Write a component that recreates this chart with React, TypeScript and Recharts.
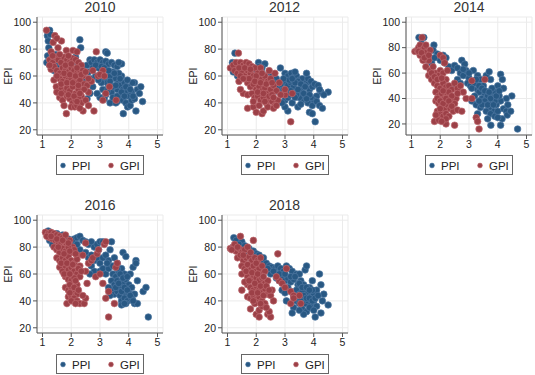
import React from 'react';
import { ScatterChart, Scatter, XAxis, YAxis, CartesianGrid } from 'recharts';

type Pt = [number, number];

const YEARS = ['2010', '2012', '2014', '2016', '2018'];
const SERIES_NAMES = ['PPI', 'GPI'];
const X_TICKS = [1, 2, 3, 4, 5];
const Y_TICKS = [20, 40, 60, 80, 100];
const Y_LABEL = 'EPI';

const PPI_2010: Pt[] = [[1.25,94],[1.17,90],[1.27,91],[1.2,86],[1.22,81],[1.18,75],[1.3,73],[1.15,70],[1.4,72],[1.5,68],[1.35,66],[1.6,70],[1.45,76],[1.7,64],[2.15,74],[2.3,87],[2.33,81],[2.2,70],[2.4,66],[2.1,62],[2.5,58],[2.55,68],[2.65,72],[2.7,70],[2.8,72],[2.9,70],[2.6,63],[2.7,58],[2.75,52],[2.65,47],[2.55,43],[2.85,60],[2.95,66],[3.0,72],[3.1,70],[3.2,71],[3.3,69],[3.4,70],[3.5,68],[3.6,67],[3.75,69],[3.2,78],[3.25,77],[3.05,62],[3.15,58],[3.25,55],[3.35,60],[3.45,63],[3.55,58],[3.65,55],[3.1,50],[3.2,46],[3.3,52],[3.4,48],[3.5,44],[3.6,50],[3.7,53],[3.8,50],[3.9,48],[4.0,52],[3.0,44],[3.35,40],[3.45,44],[3.6,41],[3.7,45],[3.8,42],[3.9,40],[4.0,45],[4.1,48],[4.2,55],[4.13,55],[4.3,50],[4.42,52],[4.48,41],[4.37,47],[4.25,34],[3.81,32],[3.96,37],[4.05,38],[4.1,42],[3.85,55],[3.75,60],[2.9,47],[3.55,40],[4.2,43],[3.65,62],[3.05,55],[3.95,57],[2.75,66],[2.85,68],[3.05,67],[3.15,66],[3.3,64],[3.5,62],[3.7,58],[3.9,52],[4.05,50],[3.25,49],[3.45,52],[3.6,45],[3.75,48],[3.85,45],[2.95,57],[3.35,56],[3.55,53],[3.15,43],[4.15,45],[3.65,70],[1.25,68],[1.4,64]];
const GPI_2010: Pt[] = [[1.14,94],[1.43,90],[1.66,86],[1.37,85],[1.54,81],[1.5,88],[1.83,79],[2.06,79],[2.87,78],[1.3,78],[1.25,72],[1.35,70],[1.45,74],[1.55,72],[1.65,70],[1.75,74],[1.85,72],[1.95,70],[2.05,73],[2.15,72],[2.25,70],[2.35,68],[1.3,65],[1.4,67],[1.5,64],[1.6,62],[1.7,66],[1.8,64],[1.9,63],[2.0,66],[2.1,64],[2.2,62],[2.3,64],[2.4,60],[1.6,58],[1.7,56],[1.8,60],[1.9,57],[2.0,58],[2.1,56],[2.2,55],[2.3,57],[2.45,54],[2.55,53],[1.55,52],[1.48,52],[1.65,50],[1.75,48],[1.85,51],[1.95,49],[2.05,52],[2.15,47],[2.25,50],[2.35,45],[2.6,48],[1.6,44],[1.7,42],[1.85,45],[1.95,43],[2.05,40],[2.15,42],[2.25,44],[2.35,40],[2.5,42],[1.75,38],[2.0,37],[2.12,37],[2.2,38],[1.83,32],[2.41,34],[2.79,34],[2.3,36],[3.1,42],[3.56,42],[3.33,52],[2.93,60],[3.1,64],[3.0,61],[3.15,60],[2.7,56],[2.75,64],[1.4,57],[1.5,48],[2.6,38],[3.2,47],[1.9,75],[2.2,78],[1.35,75],[1.6,76],[1.8,68],[2.0,69],[2.2,66],[2.4,64],[1.5,60],[1.75,62],[1.95,61],[2.15,60],[2.35,61],[1.65,54],[1.85,55],[2.05,55],[2.25,53],[2.45,50],[1.9,46],[2.1,45],[2.3,47],[2.2,41],[1.65,47],[2.5,63],[2.6,58],[1.25,68]];

const PPI_2012: Pt[] = [[1.26,77],[1.17,70],[1.23,69],[1.15,66],[1.3,64],[1.4,68],[1.2,63],[1.5,62],[1.35,60],[2.08,70],[2.3,69],[2.1,67],[2.0,64],[2.2,62],[2.45,63],[2.55,60],[2.84,66],[2.7,58],[2.6,55],[2.75,52],[2.8,48],[2.9,46],[3.0,62],[3.1,60],[3.22,62],[3.3,59],[3.4,60],[3.5,57],[3.6,58],[3.75,55],[3.8,58],[3.9,56],[3.0,55],[3.1,53],[3.2,55],[3.3,52],[3.45,56],[3.55,50],[3.65,53],[3.85,50],[3.95,52],[4.03,54],[4.15,53],[4.25,48],[4.5,48],[4.35,46],[4.1,45],[4.0,42],[3.9,44],[3.7,45],[3.6,42],[3.5,44],[3.4,46],[3.3,47],[3.2,49],[3.05,48],[2.95,50],[3.0,42],[3.1,44],[3.25,40],[3.45,37],[3.55,39],[3.8,40],[3.95,38],[4.1,41],[4.2,38],[4.3,36],[3.1,34],[3.0,37],[3.85,33],[3.95,32],[4.05,26],[2.9,40],[3.75,62],[3.6,48],[2.65,49],[3.35,63],[3.15,57],[3.35,55],[3.55,54],[3.7,52],[3.25,58],[3.45,50],[3.65,47],[3.85,46],[3.15,46],[3.35,44],[3.75,43],[2.85,54],[2.95,58],[4.2,50],[1.3,67],[2.2,66]];
const GPI_2012: Pt[] = [[1.38,77],[1.1,66],[1.2,68],[1.3,70],[1.45,70],[1.55,68],[1.65,70],[1.75,69],[1.85,67],[1.95,66],[2.05,62],[1.25,64],[1.35,62],[1.5,63],[1.6,60],[1.7,64],[1.8,62],[1.9,60],[2.0,57],[2.1,59],[2.2,58],[2.3,60],[2.4,56],[2.5,58],[2.65,62],[1.4,56],[1.55,47],[1.7,55],[1.8,52],[1.9,54],[2.0,50],[2.1,52],[2.2,49],[2.3,51],[2.4,47],[2.5,50],[2.6,53],[2.7,49],[1.7,46],[1.85,47],[1.95,44],[2.05,45],[2.15,42],[2.25,44],[2.35,40],[2.45,43],[2.55,41],[2.65,38],[2.75,42],[1.7,36],[1.9,37],[2.0,33],[2.2,32],[2.25,34],[2.4,37],[2.6,36],[2.7,38],[3.2,26],[3.0,46],[3.25,47],[3.0,50],[2.85,46],[1.65,58],[2.15,66],[2.45,64],[2.8,55],[1.45,50],[1.4,66],[1.6,66],[1.8,65],[2.0,60],[2.2,62],[1.45,60],[1.75,58],[1.95,56],[2.15,55],[2.35,54],[2.55,55],[2.05,48],[2.25,47],[2.45,45],[1.9,41],[2.1,38],[2.3,41],[2.55,46],[1.55,58],[2.6,44]];

const PPI_2014: Pt[] = [[1.26,88],[1.43,88],[1.35,83],[1.5,80],[1.6,76],[1.78,82],[1.75,78],[1.9,75],[1.55,70],[1.7,68],[1.8,72],[2.0,70],[2.1,74],[2.2,72],[2.15,68],[2.3,65],[2.4,62],[2.5,66],[2.6,64],[2.75,70],[2.85,67],[2.7,60],[2.8,58],[2.9,62],[3.0,56],[2.6,55],[2.5,50],[2.7,52],[2.95,52],[3.05,50],[3.15,62],[3.3,58],[3.4,55],[3.2,52],[3.1,48],[3.3,47],[3.5,50],[3.6,58],[3.7,61],[3.75,55],[3.65,45],[3.55,43],[3.45,40],[3.35,45],[3.2,42],[3.1,38],[3.25,35],[3.4,33],[3.6,40],[3.7,38],[3.8,42],[3.9,45],[4.0,50],[4.1,59],[4.16,55],[4.2,48],[4.49,42],[4.3,40],[4.1,38],[3.95,35],[3.85,30],[3.7,33],[3.6,30],[3.5,36],[3.75,28],[3.9,26],[4.0,30],[4.2,32],[4.3,30],[4.33,27],[4.15,24],[3.76,19],[4.1,19],[3.65,24],[4.69,16],[3.9,38],[3.3,28],[4.05,42],[3.35,50],[3.45,48],[3.55,46],[3.65,42],[3.75,40],[3.55,38],[3.45,35],[3.65,35],[3.85,35],[3.95,42],[4.05,46],[3.8,48],[3.25,55],[3.0,60],[2.8,63],[4.35,35],[4.45,30],[4.0,25],[3.7,45],[3.35,38]];
const GPI_2014: Pt[] = [[1.37,88],[1.12,77],[1.2,78],[1.25,80],[1.3,82],[1.35,78],[1.4,75],[1.45,80],[1.5,76],[1.55,72],[1.6,70],[1.3,74],[1.4,70],[1.5,65],[1.65,62],[1.75,65],[1.85,60],[1.6,58],[1.7,55],[2.0,74],[2.1,72],[2.15,68],[2.0,62],[1.95,58],[2.1,60],[2.2,55],[1.8,52],[1.9,50],[2.0,48],[2.1,52],[2.2,49],[2.3,50],[2.4,47],[2.5,52],[2.6,48],[2.7,50],[1.85,45],[1.95,42],[2.05,44],[2.15,40],[2.25,43],[2.35,40],[2.45,38],[2.55,40],[1.85,38],[1.95,36],[2.05,34],[2.15,32],[2.25,35],[2.35,32],[2.45,30],[2.6,31],[2.75,30],[1.9,30],[2.0,28],[2.1,26],[2.2,28],[2.3,26],[1.8,22],[1.95,23],[2.2,20],[2.5,19],[2.9,40],[3.1,40],[3.1,54],[3.55,55],[3.25,25],[3.35,16],[3.3,22],[2.8,45],[1.65,78],[2.25,62],[1.25,77],[1.35,76],[1.45,72],[1.5,82],[1.6,74],[1.7,60],[1.8,57],[1.9,55],[2.05,56],[2.3,45],[2.4,42],[2.5,36],[1.9,40],[2.0,38],[2.1,36],[2.2,40],[2.3,38],[2.4,34],[2.0,32],[2.2,24],[1.85,27],[2.05,22],[2.6,44],[2.1,46]];

const PPI_2016: Pt[] = [[1.2,92],[1.3,90],[1.4,88],[1.5,90],[1.6,87],[1.7,89],[1.8,85],[1.25,85],[1.35,82],[1.9,86],[2.0,84],[2.1,86],[2.2,87],[2.3,88],[2.4,85],[2.5,84],[2.6,82],[2.7,84],[2.8,80],[2.9,82],[3.0,84],[3.1,84],[2.3,78],[2.5,76],[2.6,72],[2.7,74],[2.8,70],[2.9,72],[3.0,68],[3.1,72],[3.2,74],[3.3,70],[3.4,84],[3.5,72],[3.6,68],[3.8,76],[3.9,73],[2.7,66],[2.8,62],[3.0,62],[3.1,64],[3.2,60],[3.3,64],[3.45,60],[3.55,58],[3.65,62],[3.75,64],[3.85,60],[4.05,60],[4.15,65],[4.25,70],[4.25,68],[2.65,60],[3.4,55],[3.5,52],[3.6,55],[3.7,50],[3.8,53],[3.9,56],[4.0,52],[4.1,50],[3.4,48],[3.5,45],[3.6,47],[3.7,44],[3.8,47],[3.9,44],[4.0,46],[4.2,45],[4.5,47],[4.6,50],[3.75,40],[3.85,42],[3.95,40],[4.1,42],[4.2,38],[4.3,38],[3.75,37],[3.9,38],[4.68,28],[3.35,44],[3.3,50],[4.3,55],[1.3,87],[1.45,86],[1.55,84],[1.75,82],[2.05,80],[2.2,82],[3.6,64],[3.7,60],[3.8,57],[3.95,58],[3.55,50],[3.65,53],[3.75,47],[3.85,50],[3.95,48],[4.05,44],[4.15,40],[3.85,38],[3.45,66],[3.25,68],[3.35,78],[2.95,78]];
const GPI_2016: Pt[] = [[1.1,91],[1.2,90],[1.3,91],[1.4,90],[1.5,89],[1.6,88],[1.7,87],[1.8,89],[1.25,87],[1.35,86],[1.45,85],[1.55,84],[1.65,83],[1.75,84],[1.85,82],[1.95,85],[2.05,80],[1.4,80],[1.5,78],[1.6,76],[1.7,79],[1.8,77],[1.9,80],[2.0,76],[2.1,78],[2.2,74],[1.5,72],[1.6,70],[1.7,72],[1.8,70],[1.9,73],[2.0,70],[2.1,68],[2.2,71],[2.3,66],[1.6,65],[1.7,62],[1.8,66],[1.9,63],[2.0,65],[2.1,62],[2.2,60],[2.3,58],[1.8,58],[1.9,56],[2.0,55],[2.1,57],[2.2,52],[1.8,50],[1.9,48],[2.0,50],[2.1,47],[2.2,45],[1.9,43],[2.0,44],[2.1,42],[2.2,40],[1.85,38],[2.3,38],[2.45,38],[2.5,42],[2.4,44],[2.55,53],[2.5,62],[2.6,68],[2.7,70],[2.75,72],[2.9,75],[2.95,78],[3.15,82],[3.2,84],[2.85,58],[3.0,60],[3.1,53],[3.3,47],[3.2,42],[3.5,38],[3.3,28],[3.55,65],[3.6,68],[2.5,83],[1.15,88],[1.3,88],[1.5,86],[1.7,85],[1.9,83],[1.55,80],[1.75,75],[1.95,77],[2.15,75],[1.65,68],[1.85,68],[2.05,67],[2.25,64],[1.75,60],[1.95,60],[2.15,55],[1.95,52],[2.1,50],[2.25,48],[2.0,40],[2.15,38],[1.95,46],[2.35,62],[2.4,74]];

const PPI_2018: Pt[] = [[1.22,87],[1.3,85],[1.5,84],[1.2,80],[1.3,78],[1.45,80],[1.55,78],[1.65,76],[1.75,79],[1.9,77],[2.0,75],[1.8,72],[2.1,74],[2.2,70],[2.35,68],[2.45,66],[2.3,62],[2.5,60],[2.55,65],[2.65,64],[2.75,66],[2.85,64],[2.95,62],[3.05,66],[3.15,64],[3.25,62],[3.4,60],[3.5,60],[3.7,63],[3.75,66],[2.7,57],[2.8,55],[2.9,58],[3.0,55],[3.1,57],[3.2,54],[3.3,56],[3.45,52],[3.55,55],[3.65,52],[3.85,50],[3.95,55],[4.2,60],[4.25,52],[2.9,48],[3.0,46],[3.1,50],[3.2,47],[3.3,44],[3.4,48],[3.5,45],[3.6,47],[3.7,44],[3.8,46],[3.9,43],[4.0,45],[4.1,48],[4.35,45],[4.5,37],[4.3,40],[3.4,40],[3.5,38],[3.6,41],[3.7,38],[3.8,40],[3.9,37],[4.0,40],[4.1,36],[3.3,35],[3.6,34],[3.75,32],[3.25,31],[3.65,30],[4.25,31],[4.05,28],[3.05,40],[3.95,48],[1.4,82],[1.6,81],[1.85,75],[2.25,72],[2.4,64],[2.6,62],[2.8,60],[3.0,60],[3.2,58],[3.35,58],[3.5,53],[3.6,50],[3.75,50],[3.85,48],[3.4,43],[3.55,42],[3.65,44],[3.75,42],[3.85,42],[3.95,40],[4.05,42],[4.15,44],[3.5,33],[3.85,35],[4.0,33]];
const GPI_2018: Pt[] = [[1.45,88],[1.9,85],[1.1,79],[1.2,80],[1.25,82],[1.3,77],[1.4,79],[1.5,76],[1.6,78],[1.7,80],[1.35,72],[1.45,74],[1.55,70],[1.65,72],[1.75,73],[1.85,70],[1.95,72],[2.05,70],[2.15,72],[1.5,66],[1.6,64],[1.7,67],[1.8,63],[1.9,66],[2.0,62],[2.1,64],[2.2,60],[2.3,62],[1.5,60],[1.7,58],[1.8,56],[1.9,59],[2.0,57],[2.1,55],[2.2,57],[2.3,53],[2.4,55],[1.5,48],[1.7,52],[1.8,50],[1.9,48],[2.0,51],[2.1,48],[2.2,46],[2.3,49],[2.4,45],[2.5,44],[1.7,43],[1.8,42],[1.9,44],[2.0,41],[2.1,43],[2.2,40],[2.3,38],[2.6,40],[2.55,48],[1.8,34],[2.0,30],[2.1,33],[2.4,30],[2.5,28],[2.45,32],[2.2,36],[2.75,75],[3.05,64],[2.8,55],[2.9,53],[3.0,50],[3.2,47],[3.3,44],[3.5,44],[3.2,38],[3.55,38],[3.3,42],[2.7,58],[1.15,78],[1.35,80],[1.55,74],[1.8,76],[2.0,68],[2.2,66],[1.65,62],[1.85,61],[2.05,60],[2.25,58],[1.6,54],[1.75,55],[1.95,53],[2.15,51],[2.35,51],[1.85,46],[2.05,46],[2.25,44],[2.45,48],[1.95,38],[2.15,38],[2.35,35],[2.1,28],[1.9,40]];

const PPI_BY_YEAR: Pt[][] = [PPI_2010, PPI_2012, PPI_2014, PPI_2016, PPI_2018];
const GPI_BY_YEAR: Pt[][] = [GPI_2010, GPI_2012, GPI_2014, GPI_2016, GPI_2018];

// layout
const FONT = '"Liberation Sans", Arial, Helvetica, sans-serif';
const BLUE = '#285883';
const BLUE_EDGE = '#5079a2';
const RED = '#9c4047';
const RED_EDGE = '#bd6a70';
const PLOT_W = 126;
const PLOT_H = 118;
const Y_AXIS_W = 37;
const X_AXIS_H = 20;
const M_TOP = 6;
const M_RIGHT = 8;
const COL_LEFT = [37, 221.5, 406];
const ROW_TOP = [16.5, 215];
const X_DOMAIN: [number, number] = [0.809, 5.191];
const Y_DOMAIN_STD: [number, number] = [16.13, 103.87];
const Y_DOMAIN_WIDE: [number, number] = [11.3, 104.1];

const toObj = (a: Pt[]) => a.map(([x, y]) => ({ x, y }));

const dot = (fill: string, edge: string) => (p: any) => (
  <circle cx={p.cx} cy={p.cy} r={3.3} fill={fill} stroke={edge} strokeWidth={0.7} />
);

const EpiLabel = (props: any) => {
  const vb = props.viewBox || {};
  const cx = vb.x + vb.width - 29;
  const cy = vb.y + vb.height / 2;
  return (
    <text x={cx} y={cy} transform={`rotate(-90 ${cx} ${cy})`} textAnchor="middle" dominantBaseline="central"
      fontSize={10.5} fontFamily={FONT} fill="#222">{Y_LABEL}</text>
  );
};

function Panel({ idx }: { idx: number }) {
  const col = idx % 3;
  const row = Math.floor(idx / 3);
  const plotLeft = COL_LEFT[col];
  const plotTop = ROW_TOP[row];
  const yDomain = YEARS[idx] === '2014' ? Y_DOMAIN_WIDE : Y_DOMAIN_STD;
  const w = Y_AXIS_W + PLOT_W + M_RIGHT;
  const h = M_TOP + PLOT_H + X_AXIS_H;
  const cx = plotLeft + PLOT_W / 2;
  const legendTop = row === 0 ? 154.5 : 353.5;
  const titleTop = row === 0 ? -0.2 : 198.1;
  const tickStyle = { fontSize: 10.5, fontFamily: FONT, fill: '#222' };
  return (
    <>
      <div style={{ position: 'absolute', left: cx, top: titleTop, transform: 'translateX(-50%)', fontFamily: FONT,
        fontSize: 14, fontWeight: 400, lineHeight: 1, color: '#333', whiteSpace: 'nowrap' }}>{YEARS[idx]}</div>
      <div style={{ position: 'absolute', left: plotLeft - Y_AXIS_W, top: plotTop - M_TOP }}>
        <ScatterChart width={w} height={h} margin={{ top: M_TOP, right: M_RIGHT, bottom: 0, left: 0 }}>
          <CartesianGrid stroke="#ebebeb" strokeWidth={1} />
          <XAxis type="number" dataKey="x" domain={X_DOMAIN} ticks={X_TICKS} allowDataOverflow
            height={X_AXIS_H} tickSize={4} tickMargin={2} tick={tickStyle}
            stroke="#555" axisLine={{ stroke: '#555' }} tickLine={{ stroke: '#555' }} />
          <YAxis type="number" dataKey="y" domain={yDomain} ticks={Y_TICKS} allowDataOverflow
            width={Y_AXIS_W} tickSize={4} tickMargin={2} tick={tickStyle}
            stroke="#555" axisLine={{ stroke: '#555' }} tickLine={{ stroke: '#555' }}
            label={<EpiLabel />} />
          <Scatter name={SERIES_NAMES[0]} data={toObj(PPI_BY_YEAR[idx])} isAnimationActive={false}
            shape={dot(BLUE, BLUE_EDGE)} />
          <Scatter name={SERIES_NAMES[1]} data={toObj(GPI_BY_YEAR[idx])} isAnimationActive={false}
            shape={dot(RED, RED_EDGE)} />
        </ScatterChart>
      </div>
      <div style={{ position: 'absolute', left: cx - 44, top: legendTop, width: 88, height: 20,
        boxSizing: 'border-box', border: '1px solid #666', background: '#fff' }}>
        <svg width={86} height={18} style={{ display: 'block' }}>
          <circle cx={6} cy={9.5} r={2.4} fill={BLUE} stroke={BLUE_EDGE} strokeWidth={0.6} />
          <text x={15} y={13.5} fontSize={11.5} fontFamily={FONT} fill="#222">{SERIES_NAMES[0]}</text>
          <circle cx={54} cy={9.5} r={2.4} fill={RED} stroke={RED_EDGE} strokeWidth={0.6} />
          <text x={63} y={13.5} fontSize={11.5} fontFamily={FONT} fill="#222">{SERIES_NAMES[1]}</text>
        </svg>
      </div>
    </>
  );
}

export default function App() {
  return (
    <div style={{ position: 'absolute', left: 0, top: 0, width: 535, height: 375, background: '#fff', overflow: 'hidden' }}>
      {YEARS.map((_, i) => <Panel key={i} idx={i} />)}
    </div>
  );
}
